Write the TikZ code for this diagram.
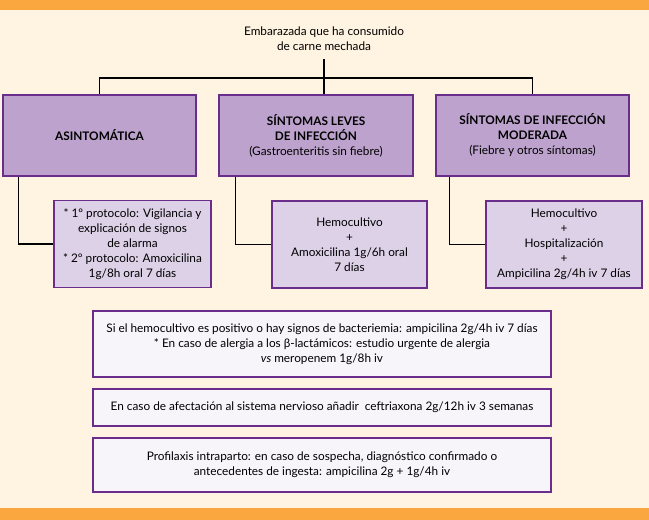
\documentclass[tikz,border=0pt]{standalone}
\usepackage{fontspec}
\setmainfont{Lato}
\usepackage{xcolor}
\definecolor{band}{HTML}{F9A73E}
\definecolor{cream}{HTML}{FFF3E2}
\definecolor{lila}{HTML}{BCA2CC}
\definecolor{lilalt}{HTML}{DDD1E8}
\definecolor{lilapale}{HTML}{F7F4FA}
\definecolor{morado}{HTML}{6B2D8B}

\tikzset{
  box/.style={draw=morado,line width=1.6pt,align=center,inner sep=2pt,
    font=\fontsize{11.8}{15}\selectfont},
  topbox/.style={box,fill=lila,minimum width=193pt,minimum height=81pt},
  midbox/.style={box,fill=lilalt,minimum width=156pt,minimum height=87pt},
  lowbox/.style={box,fill=lilapale,minimum width=458pt},
  link/.style={line width=1.4pt,black}
}

\begin{document}
\begin{tikzpicture}[x=1pt,y=-1pt]
  \fill[cream] (0,0) rectangle (649,520);
  \useasboundingbox (0,0) rectangle (649,520);
  \fill[band] (0,0) rectangle (649,10);
  \fill[band] (0,508) rectangle (649,520);

  \node (emb) [align=center,font=\fontsize{11.8}{15}\selectfont] at (324,39)
    {Embarazada que ha consumido\\de carne mechada};
  \coordinate (fork) at (324,78);

  \node (asin) [topbox] at (99.5,135.5) {\textbf{ASINTOMÁTICA}};
  \node (leve) [topbox,minimum width=194pt] at (316,135.5)
    {\textbf{SÍNTOMAS LEVES}\\\textbf{DE INFECCIÓN}\\(Gastroenteritis sin fiebre)};
  \node (mode) [topbox] at (532.5,135.5)
    {\textbf{SÍNTOMAS DE INFECCIÓN}\\\textbf{MODERADA}\\(Fiebre y otros síntomas)};

  \node (prot) [midbox,minimum width=157pt] at (132.5,244)
    {* 1º protocolo: Vigilancia y\\explicación de signos\\de alarma\\* 2º protocolo: Amoxicilina\\1g/8h oral 7 días};
  \node (amox) [midbox,minimum width=155pt] at (349.5,244.5)
    {Hemocultivo\\+\\Amoxicilina 1g/6h oral\\7 días};
  \node (ampi) [midbox] at (564,244.5)
    {Hemocultivo\\+\\Hospitalización\\+\\Ampicilina 2g/4h iv 7 días};

  \node (bact) [lowbox,minimum height=66pt] at (322,344)
    {Si el hemocultivo es positivo o hay signos de bacteriemia: ampicilina 2g/4h iv 7 días\\
     * En caso de alergia a los β-lactámicos: estudio urgente de alergia\\
     \textit{vs} meropenem 1g/8h iv};
  \node (snc) [lowbox,minimum height=37pt] at (322,407.5)
    {En caso de afectación al sistema nervioso añadir\ \ ceftriaxona 2g/12h iv 3 semanas};
  \node (prof) [lowbox,minimum height=54pt] at (322,465)
    {Profilaxis intraparto: en caso de sospecha, diagnóstico confirmado o\\
     antecedentes de ingesta: ampicilina 2g + 1g/4h iv};

  \draw[link] ([yshift=-5pt]emb.south) -- (fork);
  \draw[link] (fork) -| (asin.north);
  \draw[link] (fork) -- (fork |- leve.north);
  \draw[link] (fork) -| (mode.north);

  \draw[link] ([xshift=16pt]asin.south west) |- (prot.west);
  \draw[link] ([xshift=17pt]leve.south west) |- (amox.west);
  \draw[link] ([xshift=14pt]mode.south west) |- (ampi.west);
\end{tikzpicture}
\end{document}
